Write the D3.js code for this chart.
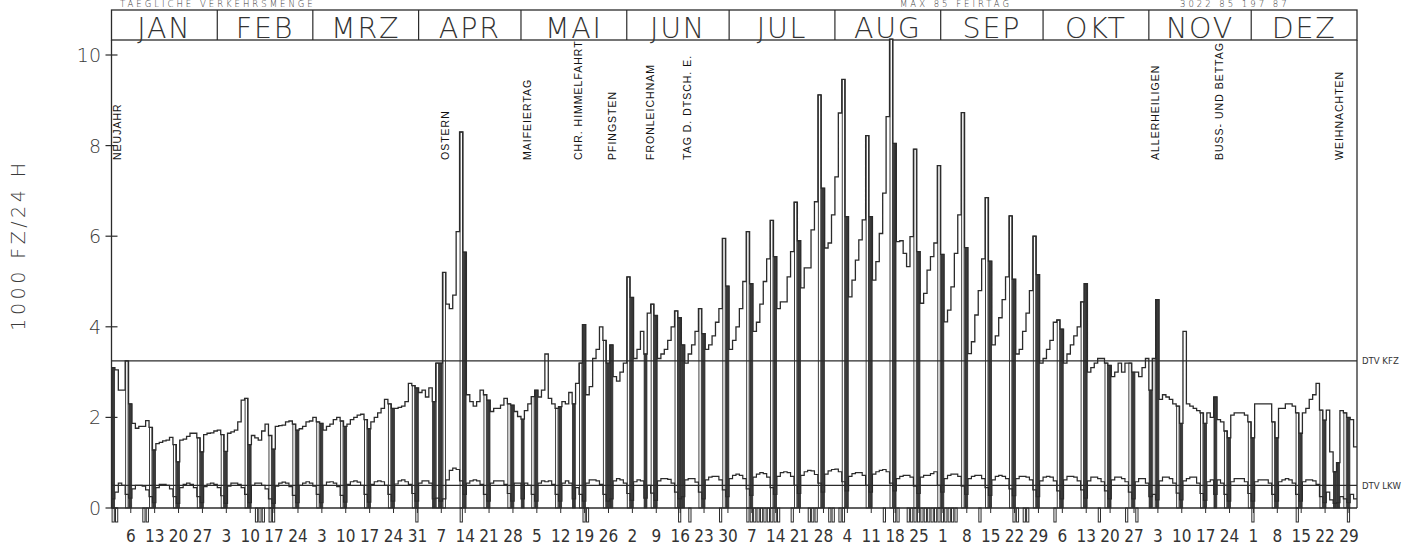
<!DOCTYPE html>
<html><head><meta charset="utf-8">
<script src="https://cdn.jsdelivr.net/npm/d3@7"></script>
<style>
body{margin:0;background:#fff;}
svg{display:block;}
</style></head><body>
<svg id="c" width="1411" height="548"></svg>
<script>
// ---------- DATA ----------
const months = ["JAN","FEB","MRZ","APR","MAI","JUN","JUL","AUG","SEP","OKT","NOV","DEZ"];
const yTicks = [0,2,4,6,8,10];
const sundayLabels = [6,13,20,27,3,10,17,24,3,10,17,24,31,7,14,21,28,5,12,19,26,2,9,16,23,30,7,14,21,28,4,11,18,25,1,8,15,22,29,6,13,20,27,3,10,17,24,1,8,15,22,29];
const titleTexts = ["TAEGLICHE VERKEHRSMENGE","MAX 85 FEIRTAG","3022 85 197 87"];
const dtvKfz = 3.25;
const dtvLkw = 0.5;

// daily KFZ (1000 Fz/24h), 1985-01-01 .. 1985-12-31, rows = weeks (Mon..Sun)
const kfz = [
  3.1,3.05,2.6,2.6,3.25,2.3,
  1.87,1.76,1.8,1.8,1.93,1.78,1.28,
  1.42,1.45,1.48,1.5,1.56,1.4,1.02,
  1.5,1.52,1.58,1.65,1.65,1.55,1.24,
  1.62,1.65,1.66,1.7,1.72,1.62,1.25,
  1.65,1.68,1.72,1.9,2.38,2.42,1.4,
  1.6,1.55,1.5,1.7,1.85,1.6,1.3,
  1.8,1.82,1.83,1.9,1.92,1.85,1.72,
  1.75,1.8,1.9,1.92,2.0,1.9,1.87,
  1.72,1.8,1.85,1.95,2.0,1.92,1.8,
  1.85,1.95,2.0,2.05,2.07,1.95,1.75,
  1.9,2.0,2.1,2.2,2.4,2.3,2.2,
  2.2,2.22,2.25,2.35,2.75,2.7,2.65,
  2.55,2.6,2.45,2.65,2.35,3.2,3.2,
  5.2,4.5,4.4,4.7,6.1,8.3,5.65,
  2.5,2.35,2.25,2.35,2.6,2.5,2.38,
  2.13,2.2,2.2,2.27,2.42,2.3,2.27,
  2.13,2.02,1.96,2.15,2.3,2.46,2.6,
  2.45,2.6,3.4,2.42,2.3,2.2,2.24,
  2.35,2.3,2.55,2.3,2.75,3.2,4.05,
  2.5,2.68,3.3,3.5,4.0,3.7,3.2,
  3.6,2.9,2.8,3.0,3.2,5.1,4.65,
  3.3,3.5,3.9,3.4,4.3,4.5,4.25,
  3.3,3.4,3.5,3.7,4.0,4.35,4.2,
  3.6,3.2,3.4,3.6,3.9,4.4,3.85,
  3.5,3.6,3.8,4.1,4.4,5.95,4.9,
  3.5,3.7,4.0,4.4,5.0,6.1,4.95,
  3.9,4.1,4.5,5.0,5.5,6.35,5.55,
  4.4,4.55,4.55,5.1,5.66,6.75,5.9,
  4.86,5.3,5.3,6.14,6.76,9.12,7.06,
  5.74,5.85,6.47,7.31,8.72,9.46,6.43,
  4.66,5.03,5.47,5.92,6.36,8.22,6.43,
  5.03,5.44,6.06,6.95,8.64,10.35,8.05,
  5.88,5.9,5.62,5.33,5.99,7.92,5.66,
  4.52,4.74,5.25,5.55,5.85,7.56,5.6,
  4.11,4.37,4.88,5.62,6.47,8.73,5.75,
  3.41,3.67,4.26,4.8,5.5,6.85,5.45,
  3.6,3.8,4.2,4.6,5.1,6.45,5.05,
  3.4,3.5,3.9,4.3,4.8,6.0,5.15,
  3.2,3.3,3.5,3.7,4.1,4.15,3.95,
  3.2,3.4,3.6,3.8,4.0,4.55,4.95,
  3.0,3.1,3.2,3.3,3.3,3.2,3.15,
  2.9,3.0,3.2,3.0,3.2,3.2,3.0,
  3.0,2.9,3.1,3.3,2.6,3.3,4.6,
  2.4,2.5,2.45,2.4,2.3,2.25,1.87,
  3.9,2.3,2.25,2.2,2.15,2.1,1.87,
  2.1,2.0,2.45,1.95,1.9,1.7,1.55,
  2.05,2.1,2.1,2.1,2.05,1.9,1.55,
  2.3,2.3,2.3,2.3,2.3,1.9,1.55,
  2.2,2.2,2.3,2.3,2.25,2.1,1.65,
  2.1,2.2,2.4,2.5,2.75,2.16,1.94,
  2.16,1.24,0.8,1.0,2.15,2.1,2.0,
  1.95,1.35
];

// daily LKW (1000 Fz/24h)
const lkw = [
  0.2,0.35,0.55,0.5,0.3,0.22,
  0.42,0.5,0.5,0.48,0.4,0.25,0.12,
  0.45,0.52,0.52,0.5,0.42,0.25,0.1,
  0.45,0.52,0.55,0.52,0.45,0.25,0.12,
  0.47,0.53,0.55,0.52,0.45,0.27,0.1,
  0.48,0.55,0.55,0.52,0.45,0.3,0.12,
  0.5,0.55,0.55,0.5,0.42,0.2,0.1,
  0.48,0.55,0.57,0.55,0.47,0.28,0.12,
  0.5,0.55,0.58,0.55,0.48,0.3,0.12,
  0.5,0.57,0.58,0.55,0.47,0.28,0.13,
  0.52,0.58,0.6,0.57,0.5,0.3,0.13,
  0.52,0.58,0.6,0.58,0.5,0.3,0.15,
  0.53,0.6,0.62,0.58,0.52,0.32,0.15,
  0.55,0.6,0.6,0.55,0.2,0.22,0.15,
  0.2,0.62,0.83,0.88,0.85,0.6,0.3,
  0.55,0.6,0.62,0.6,0.52,0.3,0.15,
  0.55,0.6,0.6,0.6,0.52,0.32,0.15,
  0.55,0.55,0.2,0.55,0.5,0.3,0.15,
  0.55,0.6,0.58,0.6,0.52,0.3,0.15,
  0.55,0.6,0.55,0.2,0.45,0.3,0.15,
  0.55,0.62,0.62,0.6,0.52,0.3,0.15,
  0.2,0.6,0.65,0.62,0.55,0.32,0.17,
  0.58,0.62,0.6,0.22,0.5,0.33,0.17,
  0.6,0.65,0.65,0.63,0.55,0.35,0.2,
  0.25,0.62,0.65,0.65,0.57,0.35,0.2,
  0.62,0.68,0.7,0.7,0.62,0.4,0.25,
  0.65,0.72,0.75,0.72,0.65,0.42,0.28,
  0.68,0.75,0.78,0.76,0.68,0.45,0.3,
  0.7,0.78,0.8,0.78,0.7,0.5,0.32,
  0.72,0.8,0.83,0.82,0.74,0.55,0.35,
  0.75,0.82,0.85,0.86,0.8,0.58,0.38,
  0.7,0.76,0.78,0.78,0.72,0.5,0.35,
  0.75,0.8,0.83,0.85,0.8,0.55,0.38,
  0.65,0.7,0.72,0.72,0.68,0.48,0.32,
  0.68,0.72,0.72,0.76,0.8,0.5,0.35,
  0.65,0.72,0.75,0.75,0.7,0.48,0.3,
  0.65,0.7,0.72,0.72,0.65,0.45,0.28,
  0.62,0.7,0.72,0.7,0.65,0.42,0.27,
  0.65,0.7,0.7,0.68,0.62,0.4,0.25,
  0.6,0.68,0.7,0.68,0.6,0.38,0.2,
  0.62,0.7,0.7,0.68,0.6,0.4,0.22,
  0.6,0.68,0.68,0.65,0.58,0.38,0.2,
  0.62,0.68,0.68,0.65,0.58,0.35,0.2,
  0.58,0.65,0.65,0.55,0.25,0.3,0.18,
  0.6,0.68,0.68,0.65,0.55,0.33,0.18,
  0.6,0.65,0.68,0.68,0.55,0.32,0.17,
  0.58,0.62,0.3,0.62,0.55,0.3,0.15,
  0.58,0.65,0.65,0.65,0.58,0.32,0.15,
  0.58,0.62,0.62,0.62,0.55,0.3,0.15,
  0.58,0.62,0.65,0.62,0.55,0.3,0.15,
  0.58,0.62,0.62,0.6,0.52,0.25,0.12,
  0.35,0.18,0.1,0.12,0.25,0.2,0.12,
  0.3,0.2
];

// public holidays drawn as filled bars (day of year index)
const holidayDays  = [0,94,96,120,135,145,146,156,167,304,323,358,359];
// extra outlined days (besides Saturdays)
const outlineDays = [97];
const holidayLabels = [
  {d:0,t:"NEUJAHR"},{d:96,t:"OSTERN"},{d:120,t:"MAIFEIERTAG"},{d:135,t:"CHR. HIMMELFAHRT"},
  {d:145,t:"PFINGSTEN"},{d:156,t:"FRONLEICHNAM"},{d:167,t:"TAG D. DTSCH. E."},
  {d:304,t:"ALLERHEILIGEN"},{d:323,t:"BUSS- UND BETTAG"},{d:358,t:"WEIHNACHTEN"}
];
// marked days below the axis (day of year index)
const markDays = [0,1,9,10,42,43,44,46,47,89,102,138,139,166,169,178,
  186,187,188,189,190,191,192,193,194,195,199,204,205,206,210,211,213,214,
  226,229,230,233,234,235,236,237,238,239,240,241,242,243,244,245,246,247,
  254,264,265,267,268,276,289,297,300,334,347,362];

// ---------- CHART ----------
const svg = d3.select("#c");
const start = new Date(1985,0,1), end = new Date(1986,0,1);
const days = d3.timeDay.range(start, end);
const x = d3.scaleTime().domain([start,end]).range([111.5,1357]);
const y = d3.scaleLinear().domain([0,10]).range([508,55]);
const X0 = i => x(days[i]);
const X1 = i => x(d3.timeDay.offset(days[i],1));
const ink = "#2b2b2b";
const holSet = new Set(holidayDays);
const outSet = new Set(outlineDays);

// title line (at the very top)
const tfont = "'DejaVu Sans', sans-serif";
const titleX = [120, 900, 1180];
svg.selectAll(".ttl").data(titleTexts).join("text")
  .attr("x",(d,i)=>titleX[i]).attr("y",7).attr("font-family",tfont).attr("font-weight",200)
  .attr("font-size",8.5).attr("letter-spacing",3).attr("fill","#333").text(d=>d);

// month header
const mStarts = d3.timeMonth.range(start, end);
svg.append("rect").attr("x",x(start)).attr("y",10).attr("width",x(end)-x(start)).attr("height",30)
  .attr("fill","none").attr("stroke",ink).attr("stroke-width",1.3);
svg.selectAll(".msep").data(mStarts.slice(1)).join("line")
  .attr("x1",d=>x(d)).attr("x2",d=>x(d)).attr("y1",10).attr("y2",40)
  .attr("stroke",ink).attr("stroke-width",1.2);
svg.selectAll(".mlab").data(mStarts).join("text")
  .attr("x",(d,i)=>(x(d)+x(d3.timeMonth.offset(d,1)))/2).attr("y",37.5)
  .attr("text-anchor","middle").attr("font-family",tfont).attr("font-weight",200)
  .attr("font-size",28.5).attr("letter-spacing",1.8).attr("fill","#333").text((d,i)=>months[i]);

// Saturday outline bars
const sats = d3.range(365).filter(i=>(days[i].getDay()===6 || outSet.has(i)) && !holSet.has(i));
svg.append("g").selectAll("rect").data(sats).join("rect")
  .attr("x",i=>X0(i)+0.5).attr("width",i=>X1(i)-X0(i)-1)
  .attr("y",i=>y(kfz[i])).attr("height",i=>y(0)-y(kfz[i]))
  .attr("fill","#fff").attr("stroke",ink).attr("stroke-width",0.9);

// Sunday / holiday filled bars
const suns = d3.range(365).filter(i=>days[i].getDay()===0 || holSet.has(i));
svg.append("g").selectAll("rect").data(suns).join("rect")
  .attr("x",i=>X0(i)+0.3).attr("width",i=>X1(i)-X0(i)-0.6)
  .attr("y",i=>y(kfz[i])).attr("height",i=>y(0)-y(kfz[i]))
  .attr("fill","#3a3a3a").attr("stroke",ink).attr("stroke-width",0.8);

// step lines
const stepLine = d3.line().x(d=>x(d[0])).y(d=>y(d[1])).curve(d3.curveStepAfter);
const kfzPts = kfz.map((v,i)=>[days[i],v]); kfzPts.push([end,kfz[364]]);
const lkwPts = lkw.map((v,i)=>[days[i],v]); lkwPts.push([end,lkw[364]]);
svg.append("path").attr("d",stepLine(kfzPts)).attr("fill","none").attr("stroke",ink).attr("stroke-width",1.3);
svg.append("path").attr("d",stepLine(lkwPts)).attr("fill","none").attr("stroke",ink).attr("stroke-width",1.2);

// DTV lines
[dtvKfz,dtvLkw].forEach(v=>{
  svg.append("line").attr("x1",x(start)).attr("x2",x(end)).attr("y1",y(v)).attr("y2",y(v))
    .attr("stroke",ink).attr("stroke-width",1.2);
});
const lfont = "'Liberation Sans Narrow','DejaVu Sans Condensed',sans-serif";
svg.append("text").attr("x",1362).attr("y",y(dtvKfz)+3.5).attr("font-family",lfont).attr("font-size",9.5).attr("fill","#333").text("DTV KFZ");
svg.append("text").attr("x",1362).attr("y",y(dtvLkw)+3.5).attr("font-family",lfont).attr("font-size",9.5).attr("fill","#333").text("DTV LKW");

// frame
svg.append("line").attr("x1",x(start)).attr("x2",x(start)).attr("y1",40).attr("y2",y(0)).attr("stroke",ink).attr("stroke-width",1.3);
svg.append("line").attr("x1",x(end)).attr("x2",x(end)).attr("y1",40).attr("y2",y(0)).attr("stroke",ink).attr("stroke-width",1.3);
svg.append("line").attr("x1",x(start)).attr("x2",x(end)).attr("y1",y(0)).attr("y2",y(0)).attr("stroke",ink).attr("stroke-width",1.3);

// y axis ticks (cross style)
svg.append("g").selectAll("line").data(yTicks).join("line")
  .attr("x1",x(start)-6).attr("x2",x(start)+6).attr("y1",d=>y(d)).attr("y2",d=>y(d))
  .attr("stroke",ink).attr("stroke-width",1.2);
svg.append("g").selectAll("text").data(yTicks).join("text")
  .attr("x",101).attr("y",d=>y(d)+7).attr("text-anchor","end")
  .attr("font-family",tfont).attr("font-weight",200).attr("font-size",19).attr("fill","#3a3a3a").text(d=>d);
svg.append("text").attr("transform","translate(25,245) rotate(-90)").attr("text-anchor","middle")
  .attr("font-family",tfont).attr("font-weight",200).attr("font-size",19).attr("letter-spacing",3.5)
  .attr("fill","#3a3a3a").text("1000 FZ/24 H");

// x axis: Sunday ticks and labels
const sundays = d3.timeSunday.range(start,end);
const xAxis = d3.axisBottom(x).tickValues(sundays.map(d=>d3.timeHour.offset(d,12)))
  .tickSize(5).tickFormat((d,i)=>sundayLabels[i]);
const gx = svg.append("g").attr("transform",`translate(0,${y(0)})`).call(xAxis);
gx.select(".domain").remove();
gx.selectAll(".tick line").attr("stroke",ink).attr("stroke-width",1);
gx.selectAll(".tick text").attr("y",22).attr("font-family",lfont).attr("font-size",17).attr("fill","#333");

// marked days below axis
svg.append("g").selectAll("rect").data(markDays).join("rect")
  .attr("x",i=>X0(i)+0.6).attr("width",i=>X1(i)-X0(i)-1.2).attr("y",y(0)).attr("height",14)
  .attr("fill","none").attr("stroke",ink).attr("stroke-width",1);

// holiday labels
svg.append("g").selectAll("text").data(holidayLabels).join("text")
  .attr("transform",d=>`translate(${(X0(d.d)+X1(d.d))/2+8},160) rotate(-90)`)
  .attr("font-family","'Liberation Sans Narrow','Liberation Sans',sans-serif").attr("font-size",10.5).attr("letter-spacing",1)
  .attr("fill","#111").text(d=>d.t);
</script>
</body></html>
